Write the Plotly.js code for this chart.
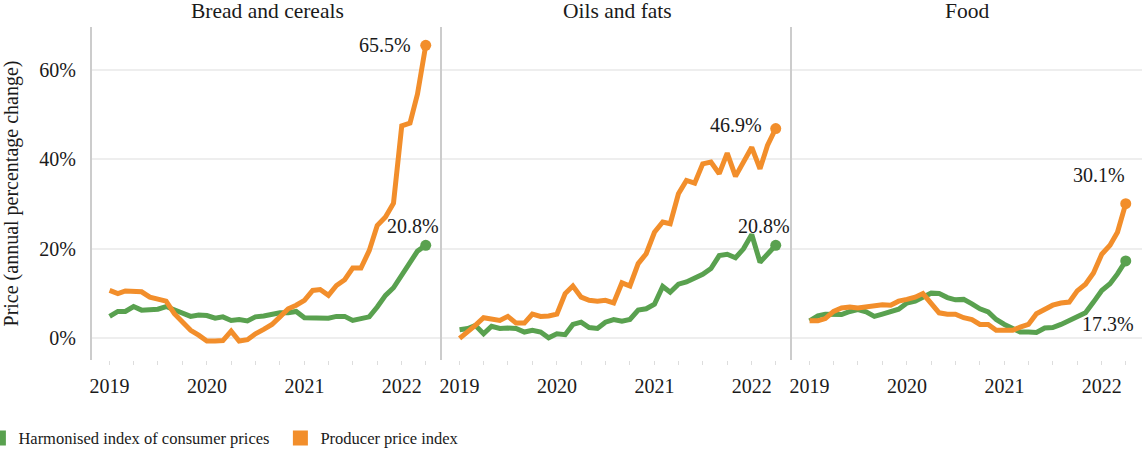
<!DOCTYPE html>
<html>
<head>
<meta charset="utf-8">
<script src="https://cdn.plot.ly/plotly-3.0.1.min.js"></script>
<style>
  html, body { margin: 0; padding: 0; background: #ffffff; }
  #chart { width: 1142px; height: 450px; }
</style>
</head>
<body>
<div id="chart"></div>
<script>
// ---- Data (annual % change, monthly, Jan 2019 – Apr 2022) ----
const months = [
  "2019-01-01","2019-02-01","2019-03-01","2019-04-01","2019-05-01","2019-06-01",
  "2019-07-01","2019-08-01","2019-09-01","2019-10-01","2019-11-01","2019-12-01",
  "2020-01-01","2020-02-01","2020-03-01","2020-04-01","2020-05-01","2020-06-01",
  "2020-07-01","2020-08-01","2020-09-01","2020-10-01","2020-11-01","2020-12-01",
  "2021-01-01","2021-02-01","2021-03-01","2021-04-01","2021-05-01","2021-06-01",
  "2021-07-01","2021-08-01","2021-09-01","2021-10-01","2021-11-01","2021-12-01",
  "2022-01-01","2022-02-01","2022-03-01","2022-04-01"
];

const panelTitles = ["Bread and cereals", "Oils and fats", "Food"];
const seriesNames = ["Harmonised index of consumer prices", "Producer price index"];
const yTickVals = [0, 20, 40, 60];
const yTickText = ["0%", "20%", "40%", "60%"];

// Bread and cereals
const breadHICP = [4.9,6.0,6.0,7.1,6.3,6.5,6.5,7.1,6.3,5.5,4.9,5.2,
                   5.1,4.5,4.8,4.0,4.2,3.9,4.8,5.0,5.5,5.7,5.7,6.0,
                   4.6,4.5,4.6,4.5,4.9,4.9,4.0,4.3,4.8,7.0,9.6,11.3,
                   14.1,17.4,19.5,20.8];
const breadPPI  = [10.7,10.0,10.6,10.6,10.4,9.2,8.7,8.3,5.5,3.6,1.8,0.7,
                   -0.6,-0.6,-0.5,1.6,-0.6,-0.3,1.0,2.0,3.1,4.8,6.6,7.4,
                   8.5,10.7,10.9,9.6,11.8,13.1,15.7,15.7,19.6,25.2,27.1,30.2,
                   47.5,48.1,54.6,65.5];

// Oils and fats
const oilsHICP = [1.9,2.2,2.9,1.0,2.7,2.2,2.3,2.2,1.4,1.8,1.4,0.1,
                  1.0,0.8,3.1,3.6,2.4,2.2,3.6,4.2,3.8,4.2,6.3,6.6,
                  7.6,11.6,10.3,12.1,12.6,13.5,14.3,15.6,18.5,18.8,18.0,20.0,
                  23.2,17.0,18.7,20.8];
const oilsPPI  = [0.0,1.4,2.9,4.6,4.4,4.0,4.9,3.4,3.4,5.4,4.9,5.0,
                  5.4,10.0,11.7,9.2,8.5,8.3,8.5,7.9,12.4,11.7,16.7,18.9,
                  23.7,26.0,25.6,32.3,35.3,34.7,39.0,39.4,36.8,41.4,36.2,39.7,
                  42.7,37.9,43.1,46.9];

// Food
const foodHICP = [3.9,5.0,5.4,5.3,5.3,6.0,6.4,5.9,4.9,5.4,5.9,6.5,
                  7.9,8.3,9.2,10.1,10.0,9.1,8.6,8.7,7.7,6.6,5.9,4.2,
                  3.1,2.3,1.4,1.4,1.3,2.3,2.4,3.1,4.0,4.8,5.7,8.1,
                  10.7,12.2,14.4,17.3];
const foodPPI  = [3.9,3.9,4.4,6.0,6.8,7.0,6.8,7.0,7.2,7.5,7.4,8.3,
                  8.7,9.2,10.0,7.7,5.7,5.4,5.4,4.6,4.2,3.1,3.1,1.8,
                  1.9,1.8,2.5,3.1,5.5,6.6,7.4,7.9,8.1,10.6,12.1,14.6,
                  18.8,20.8,23.7,30.1];

const panels = [
  {hicp: breadHICP, ppi: breadPPI},
  {hicp: oilsHICP,  ppi: oilsPPI},
  {hicp: foodHICP,  ppi: foodPPI}
];

// ---- Styling ----
const GREEN = "#59a14f";
const ORANGE = "#f28e2b";
const FONT = "Liberation Serif";
const TXT = "#1a1a1a";
const xRange = ["2018-10-27", "2022-06-01"];

const traces = [];
panels.forEach((p, k) => {
  const xa = k === 0 ? "x" : "x" + (k + 1);
  const ya = k === 0 ? "y" : "y" + (k + 1);
  const endSizes = months.map((m, i) => i === months.length - 1 ? 11 : 0);
  [[p.hicp, GREEN, 0], [p.ppi, ORANGE, 1]].forEach(([vals, col, s]) => {
    traces.push({
      x: months, y: vals, xaxis: xa, yaxis: ya,
      type: "scatter", mode: "lines+markers",
      name: seriesNames[s], showlegend: false,
      line: {color: col, width: 5, shape: "linear"},
      marker: {color: col, size: endSizes, opacity: 1, line: {width: 0}},
      hoverinfo: "x+y"
    });
  });
});
// legend entries (square swatches)
[[GREEN, 0], [ORANGE, 1]].forEach(([col, s]) => {
  traces.push({
    x: [null], y: [null], type: "scatter", mode: "markers",
    name: seriesNames[s], showlegend: true,
    marker: {color: col, size: 15, symbol: "square"},
    xaxis: "x", yaxis: "y"
  });
});

const yRange = [-4.85, 69.6];
const third = 1 / 3;
const layout = {
  width: 1142, height: 450,
  margin: {l: 92, r: 0, t: 27, b: 90, autoexpand: false},
  paper_bgcolor: "#ffffff", plot_bgcolor: "#ffffff",
  font: {family: FONT, size: 20, color: TXT},
  showlegend: true,
  legend: {
    orientation: "h", x: -0.1082, xanchor: "left", y: -0.235, yanchor: "middle",
    font: {family: FONT, size: 16.5, color: TXT},
    entrywidth: 257, entrywidthmode: "pixels",
    bgcolor: "rgba(0,0,0,0)", itemclick: false
  },
  annotations: [],
  shapes: []
};

for (let k = 0; k < 3; k++) {
  const sfx = k === 0 ? "" : String(k + 1);
  layout["xaxis" + sfx] = {
    domain: [k * third, (k + 1) * third],
    type: "date", range: xRange,
    anchor: "y" + sfx, automargin: false,
    dtick: "M12", tick0: "2019-01-01", tickformat: "%Y",
    ticks: "outside", ticklen: 4, tickcolor: "#dddddd", tickwidth: 1,
    minor: {dtick: "M3", ticks: "outside", ticklen: 4, tickcolor: "#dddddd", tickwidth: 1, showgrid: false},
    showgrid: false, zeroline: false, showline: false,
    tickfont: {family: FONT, size: 20, color: TXT},
    ticklabelstandoff: 4,
    fixedrange: true
  };
  layout["yaxis" + sfx] = {
    domain: [0, 1], anchor: "x" + sfx, automargin: false,
    range: yRange,
    tickmode: "array", tickvals: yTickVals, ticktext: yTickText,
    showticklabels: k === 0,
    showgrid: true, gridcolor: "#eeeeee", gridwidth: 1.5,
    zeroline: false,
    showline: true, linecolor: "#cccccc", linewidth: 2,
    ticks: "", ticklabelstandoff: 10,
    tickfont: {family: FONT, size: 20, color: TXT},
    fixedrange: true
  };
  if (k > 0) layout["yaxis" + sfx].matches = "y";
  // zero reference line (dotted)
  layout.shapes.push({
    type: "line", xref: "x" + sfx + " domain", yref: "y" + sfx,
    x0: 0, x1: 1, y0: 0, y1: 0,
    line: {color: "#bbbbbb", width: 1, dash: "dot"}, layer: "below"
  });
  // panel title
  layout.annotations.push({
    text: panelTitles[k], xref: "x" + sfx + " domain", yref: "paper",
    x: 0.5, y: 1, yanchor: "bottom", yshift: 2, showarrow: false,
    font: {family: FONT, size: 21.5, color: TXT}
  });
}
layout.yaxis.title = {
  text: "Price (annual percentage change)",
  font: {family: FONT, size: 20, color: TXT},
  standoff: 16
};

// end-value labels
const last = months.length - 1;
const endLabels = [
  {k: 0, vals: breadPPI,  xshift: -13, yshift: 0,  xanchor: "right",  yanchor: "middle"},
  {k: 0, vals: breadHICP, xshift: -13, yshift: 6,  xanchor: "center", yanchor: "bottom"},
  {k: 1, vals: oilsPPI,   xshift: -12, yshift: 4,  xanchor: "right",  yanchor: "middle"},
  {k: 1, vals: oilsHICP,  xshift: -12, yshift: 6,  xanchor: "center", yanchor: "bottom"},
  {k: 2, vals: foodPPI,   xshift: -27, yshift: 16, xanchor: "center", yanchor: "bottom"},
  {k: 2, vals: foodHICP,  xshift: -18, yshift: -63, xanchor: "center", yanchor: "middle"}
];
endLabels.forEach(o => {
  const sfx = o.k === 0 ? "" : String(o.k + 1);
  const v = o.vals[last];
  layout.annotations.push({
    text: v.toFixed(1) + "%", xref: "x" + sfx, yref: "y" + sfx,
    x: months[last], y: v, showarrow: false,
    xanchor: o.xanchor, yanchor: o.yanchor, xshift: o.xshift, yshift: o.yshift,
    font: {family: FONT, size: 20, color: TXT}
  });
});

Plotly.newPlot("chart", traces, layout, {displayModeBar: false, responsive: false});
</script>
</body>
</html>
